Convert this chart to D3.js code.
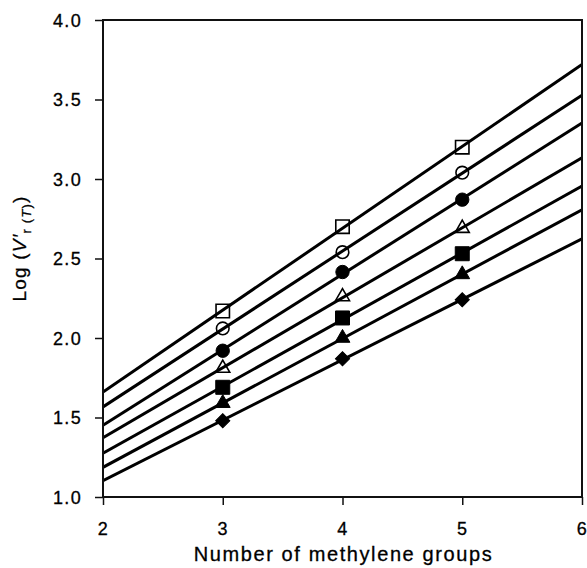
<!DOCTYPE html>
<html>
<head>
<meta charset="utf-8">
<script src="https://cdn.jsdelivr.net/npm/d3@7"></script>
<style>
  body { margin: 0; background: #fff; }
  text { font-family: "Liberation Sans", Arial, Helvetica, sans-serif; fill: #000; }
</style>
</head>
<body>
<script>
// number of methylene groups where the points were measured
var groups = [3, 4, 5];
// log V'r(T) for each series, top to bottom
var openSquare   = [2.17, 2.70, 3.20];
var openCircle   = [2.06, 2.54, 3.04];
var fullCircle   = [1.92, 2.415, 2.87];
var openTriangle = [1.81, 2.26, 2.69];
var fullSquare   = [1.69, 2.126, 2.53];
var fullTriangle = [1.59, 2.00, 2.40];
var fullDiamond  = [1.48, 1.87, 2.24];

var xTicks = [2, 3, 4, 5, 6];
var yTicks = [1.0, 1.5, 2.0, 2.5, 3.0, 3.5, 4.0];

var series = [
  {vals: openSquare,   shape: d3.symbolSquare,   size: 180, filled: false, rot: 0},
  {vals: openCircle,   shape: d3.symbolCircle,   size: 125, filled: false, rot: 0},
  {vals: fullCircle,   shape: d3.symbolCircle,   size: 140, filled: true,  rot: 0},
  {vals: openTriangle, shape: d3.symbolTriangle, size: 85,  filled: false, rot: 0},
  {vals: fullSquare,   shape: d3.symbolSquare,   size: 196, filled: true,  rot: 0},
  {vals: fullTriangle, shape: d3.symbolTriangle, size: 95,  filled: true,  rot: 0},
  {vals: fullDiamond,  shape: d3.symbolSquare,   size: 100, filled: true,  rot: 45}
];

var W = 587, H = 568;
var m = {top: 20, right: 5, bottom: 71, left: 103};
var w = W - m.left - m.right, h = H - m.top - m.bottom;

var svg = d3.select("body").append("svg")
  .attr("width", W)
  .attr("height", H);
var g = svg.append("g").attr("transform", "translate(" + m.left + "," + m.top + ")");

var x = d3.scaleLinear().domain([2, 6]).range([0, w]);
var y = d3.scaleLinear().domain([1, 4]).range([h, 0]);

// regression line for each series, drawn across the whole x range
function fit(vals) {
  var mx = d3.mean(groups), my = d3.mean(vals);
  var num = 0, den = 0;
  for (var i = 0; i < groups.length; i++) {
    num += (groups[i] - mx) * (vals[i] - my);
    den += (groups[i] - mx) * (groups[i] - mx);
  }
  var b = num / den;
  return function(v) { return my + b * (v - mx); };
}

g.append("defs").append("clipPath").attr("id", "clip")
  .append("rect").attr("width", w).attr("height", h);

var lines = g.append("g").attr("clip-path", "url(#clip)");
series.forEach(function(s) {
  var f = fit(s.vals);
  lines.append("line")
    .attr("x1", x(2)).attr("y1", y(f(2)))
    .attr("x2", x(6)).attr("y2", y(f(6)))
    .attr("stroke", "#000")
    .attr("stroke-width", 3);
});

// markers
series.forEach(function(s) {
  g.selectAll(null)
    .data(s.vals)
    .enter()
    .append("path")
    .attr("d", d3.symbol().type(s.shape).size(s.size))
    .attr("transform", function(d, i) {
      return "translate(" + x(groups[i]) + "," + y(d) + ") rotate(" + s.rot + ")";
    })
    .attr("fill", s.filled ? "#000" : "none")
    .attr("stroke", "#000")
    .attr("stroke-width", s.filled ? 1 : 1.6);
});

// frame
g.append("rect")
  .attr("width", w).attr("height", h)
  .attr("fill", "none")
  .attr("stroke", "#111")
  .attr("stroke-width", 2);

var xAxis = g.append("g")
  .attr("transform", "translate(0," + h + ")")
  .call(d3.axisBottom(x).tickValues(xTicks).tickFormat(d3.format("d")).tickSize(8).tickPadding(17));
var yAxis = g.append("g")
  .call(d3.axisLeft(y).tickValues(yTicks).tickFormat(d3.format(".1f")).tickSize(8).tickPadding(13));

[xAxis, yAxis].forEach(function(a) {
  a.select(".domain").remove();
  a.selectAll(".tick line").attr("stroke", "#111").attr("stroke-width", 1.5);
  a.selectAll(".tick text")
    .style("font-family", "'Liberation Sans', Arial, sans-serif")
    .style("font-size", "18px")
    .style("letter-spacing", "1.3px")
    .attr("fill", "#000")
    .attr("stroke", "#000")
    .attr("stroke-width", 0.3);
});
yAxis.selectAll(".tick text").attr("dy", "0.35em");

// axis titles
svg.append("text")
  .attr("x", m.left + w / 2 + 1)
  .attr("y", 561)
  .attr("text-anchor", "middle")
  .attr("stroke", "#000")
  .attr("stroke-width", 0.3)
  .style("font-size", "20px")
  .style("letter-spacing", "1.6px")
  .text("Number of methylene groups");

var yt = svg.append("text")
  .attr("transform", "translate(26," + (m.top + h / 2 - 10) + ") rotate(-90)")
  .attr("text-anchor", "middle")
  .attr("stroke", "#000")
  .attr("stroke-width", 0.3)
  .style("font-size", "19px")
  .style("letter-spacing", "1.2px");
yt.append("tspan").text("Log (");
yt.append("tspan").style("font-style", "italic").text("V′");
yt.append("tspan").attr("dy", 5).style("font-size", "13px").text("r (");
yt.append("tspan").style("font-size", "13px").style("font-style", "italic").text("T");
yt.append("tspan").style("font-size", "13px").text(")");
yt.append("tspan").attr("dy", -5).text(")");
</script>
</body>
</html>
